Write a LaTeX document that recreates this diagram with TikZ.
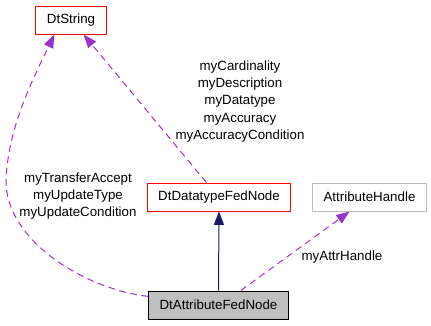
\documentclass[tikz,border=0pt]{standalone}
\usepackage{fontspec}
\setmainfont{Liberation Sans}
\usetikzlibrary{arrows.meta}
\definecolor{edgepurple}{HTML}{9A32CD}
\definecolor{edgenavy}{HTML}{191970}
\definecolor{nodegray}{HTML}{BFBFBF}
\tikzset{
  classbox/.style={rectangle,draw=#1,fill=white,font=\fontsize{10}{12}\selectfont,
    minimum height=21pt,inner xsep=8.25pt,line width=0.75pt},
  classbox/.default={red},
  usearrow/.style={-{Triangle[length=10pt,width=7.5pt,fill=edgepurple]},draw=edgepurple,
    dash pattern=on 5pt off 3.5pt,line width=0.75pt},
  inharrow/.style={-{Triangle[length=10pt,width=7.5pt,fill=edgenavy]},draw=edgenavy,line width=0.75pt},
  edgelabel/.style={font=\fontsize{10}{12.9}\selectfont,align=center,inner sep=0pt},
}
\begin{document}
\begin{tikzpicture}[x=0.75pt,y=-0.75pt]
  \useasboundingbox (0,0) rectangle (431,325);
  \node[classbox=red]    (ds) at (71,20)    {DtString};
  \node[classbox=red]    (dn) at (219,197)  {DtDatatypeFedNode};
  \node[classbox=nodegray] (ah) at (369.5,197) {AttributeHandle};
  \node[classbox=black,fill=nodegray] (an) at (218.5,305) {DtAttributeFedNode};
  % member labels
  \node[edgelabel] (lc) at (240,101.5) {myCardinality\\myDescription\\myDatatype\\myAccuracy\\myAccuracyCondition};
  \node[edgelabel] (lu) at (78,196) {myTransferAccept\\myUpdateType\\myUpdateCondition};
  \node[edgelabel] (lh) at (342,257) {myAttrHandle};
  % edges
  \draw[inharrow] (an.north) -- (dn.south);
  \draw[usearrow] (dn.131) -- (ds.311);
  \draw[usearrow] (an.33) -- (ah.216);
  \draw[usearrow] (an.173) .. controls (90,290) and (10,245) .. (6,185)
    .. controls (6,130) and (35,75) .. (ds.221);
\end{tikzpicture}
\end{document}
